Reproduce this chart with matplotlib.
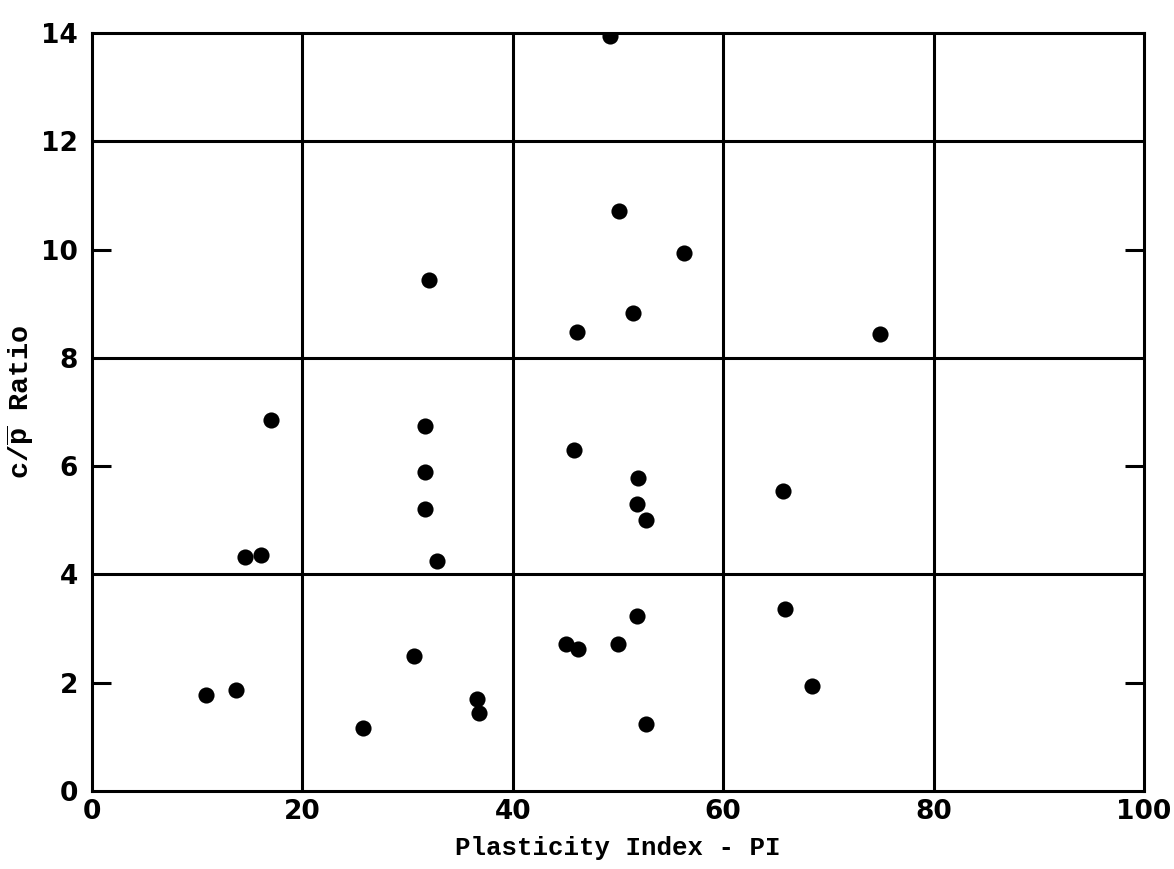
import matplotlib
matplotlib.use("Agg")
import matplotlib.pyplot as plt

plt.rcParams["mathtext.fontset"] = "custom"
plt.rcParams["mathtext.rm"] = "Liberation Mono:bold"
plt.rcParams["mathtext.it"] = "Liberation Mono:bold"
plt.rcParams["mathtext.bf"] = "Liberation Mono:bold"

# Data
pi_values = [49.2, 50.1, 56.3, 32.0, 51.4, 46.1, 74.9, 17.0, 31.7, 45.8,
             31.7, 51.9, 65.7, 51.8, 31.7, 52.7, 14.5, 16.1, 32.8, 51.8,
             65.9, 45.1, 46.2, 50.0, 30.6, 68.4, 10.8, 13.7, 36.6, 36.8,
             25.8, 52.7]
cp_ratio = [13.95, 10.72, 9.94, 9.43, 8.83, 8.48, 8.44, 6.85, 6.74, 6.30,
            5.89, 5.78, 5.54, 5.30, 5.20, 5.00, 4.33, 4.35, 4.24, 3.24,
            3.37, 2.72, 2.63, 2.72, 2.50, 1.93, 1.78, 1.87, 1.70, 1.44,
            1.17, 1.24]
x_ticks = [0, 20, 40, 60, 80, 100]
y_ticks = [0, 2, 4, 6, 8, 10, 12, 14]
x_grid = [20, 40, 60, 80]
y_grid = [4, 8, 12]
y_short_ticks = [2, 6, 10]

fig = plt.figure(figsize=(11.74, 8.69), dpi=100)
ax = fig.add_axes([0.0784, 0.0898, 0.8960, 0.8722])
ax.set_xlim(0, 100)
ax.set_ylim(0, 14)

lw = 2.2
for s in ax.spines.values():
    s.set_linewidth(lw)
    s.set_color("black")
for xv in x_grid:
    ax.axvline(xv, color="black", lw=lw, zorder=1)
for yv in y_grid:
    ax.axhline(yv, color="black", lw=lw, zorder=1)

ax.scatter(pi_values, cp_ratio, s=135, color="black", zorder=3, linewidths=0)

tick_font = dict(family="DejaVu Sans", size=19, weight="bold")
ax.set_xticks(x_ticks)
ax.set_xticklabels([str(v) for v in x_ticks], **tick_font)
ax.set_yticks(y_ticks)
ax.set_yticklabels([str(v) for v in y_ticks], **tick_font)
ax.tick_params(axis="both", which="major", length=0)
ax.tick_params(axis="x", which="major", pad=6)
ax.tick_params(axis="y", which="major", pad=10)
ax.yaxis.remove_overlapping_locs = False
ax.set_yticks(y_short_ticks, minor=True)
ax.tick_params(axis="y", which="minor", direction="in", length=14,
               width=lw, left=True, right=True, labelleft=False,
               labelright=False)

label_font = dict(family="Liberation Mono", size=18.5, weight="bold")
ax.set_xlabel("Plasticity Index - PI", labelpad=8, **label_font)
ax.set_ylabel(r"c/$\overline{\mathrm{p}}$ Ratio", family="Liberation Mono",
              size=20.5, weight="bold")
ax.yaxis.set_label_coords(-0.053, 0.513)

fig.savefig("out.png", dpi=100, facecolor="white")
